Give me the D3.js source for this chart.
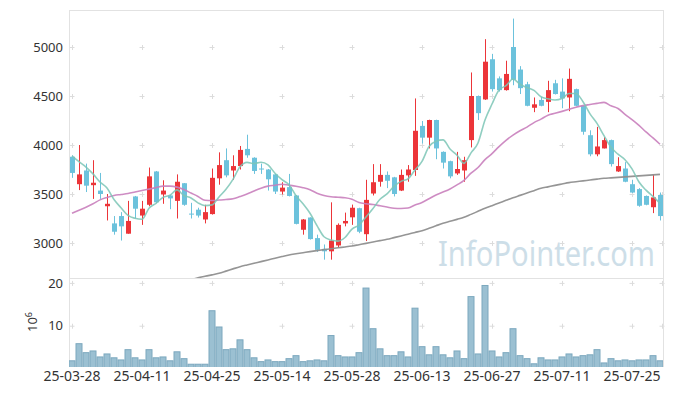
<!DOCTYPE html>
<html><head><meta charset="utf-8">
<script src="https://cdn.jsdelivr.net/npm/d3@7"></script>
<style>body{margin:0;background:#fff}svg{display:block}</style>
</head><body>
<svg id="c" width="673" height="396"></svg>
<script>
const dates = ["25-03-28","25-03-31","25-04-01","25-04-02","25-04-03","25-04-04","25-04-07","25-04-08","25-04-09","25-04-10",
"25-04-11","25-04-14","25-04-15","25-04-16","25-04-17","25-04-18","25-04-21","25-04-22","25-04-23","25-04-24",
"25-04-25","25-04-28","25-04-29","25-04-30","25-05-02","25-05-07","25-05-08","25-05-09","25-05-12","25-05-13",
"25-05-14","25-05-15","25-05-16","25-05-19","25-05-20","25-05-21","25-05-22","25-05-23","25-05-26","25-05-27",
"25-05-28","25-05-29","25-05-30","25-06-02","25-06-04","25-06-05","25-06-09","25-06-10","25-06-11","25-06-12",
"25-06-13","25-06-16","25-06-17","25-06-18","25-06-19","25-06-20","25-06-23","25-06-24","25-06-25","25-06-26",
"25-06-27","25-06-30","25-07-01","25-07-02","25-07-03","25-07-04","25-07-07","25-07-08","25-07-09","25-07-10",
"25-07-11","25-07-14","25-07-15","25-07-16","25-07-17","25-07-18","25-07-21","25-07-22","25-07-23","25-07-24",
"25-07-25","25-07-28","25-07-29","25-07-30","25-07-31"];

const opens = [3880,3600,3740,3590,3535,3375,3200,3275,3095,3475,3280,3390,3730,3495,3485,3430,3610,3300,3340,3240,
3295,3660,3845,3740,3785,3960,3870,3760,3750,3700,3525,3570,3485,3135,3260,3050,2940,2915,2975,3200,
3262,3355,3090,3505,3625,3695,3670,3535,3690,3745,4195,4075,4255,3930,3835,3710,3740,4050,4500,4465,
4875,4680,4560,5000,4770,4620,4380,4460,4440,4630,4545,4485,4570,4400,4100,3905,3965,4050,3730,3760,
3600,3550,3480,3365,3490];
const highs = [3895,4000,3810,3845,3715,3500,3275,3315,3430,3480,3430,3770,3735,3640,3490,3700,3612,3410,3360,3390,
3760,3925,3965,3895,3990,4105,3875,3810,3755,3705,3620,3705,3490,3245,3262,3085,2985,3415,3200,3310,
3392,3360,3645,3805,3805,3730,3675,3750,3795,4475,4245,4258,4258,3935,3840,3930,3880,4740,4505,5080,
4930,4700,4860,5290,4805,4645,4485,4490,4655,4665,4680,4780,4575,4400,4150,4185,4080,4055,3875,3825,
3645,3560,3485,3700,3515];
const lows = [3665,3540,3520,3450,3450,3230,3085,3025,3095,3250,3185,3375,3405,3400,3345,3250,3380,3250,3260,3200,
3290,3595,3670,3645,3750,3870,3705,3705,3535,3500,3495,3475,3190,3085,3035,2910,2830,2830,2950,3170,
3185,3100,3020,3485,3575,3560,3475,3530,3625,3685,4015,3965,3855,3760,3660,3695,3625,3975,4255,4460,
4545,4545,4555,4610,4520,4395,4335,4395,4335,4515,4375,4345,4395,4105,3885,3885,3965,3780,3725,3620,
3510,3370,3385,3305,3230];
const closes = [3715,3700,3585,3615,3500,3400,3115,3170,3225,3350,3350,3680,3415,3535,3455,3625,3390,3295,3280,3315,
3665,3795,3690,3785,3950,3895,3735,3755,3650,3525,3565,3480,3195,3240,3040,2930,2915,3025,3185,3225,
3360,3115,3440,3620,3695,3635,3500,3695,3750,4145,4075,4255,3965,3820,3680,3755,3845,4500,4325,4850,
4570,4560,4725,4665,4580,4400,4415,4400,4560,4520,4475,4675,4400,4135,3905,3985,4050,3805,3785,3625,
3515,3380,3390,3465,3275];
// volume in millions of shares
const volumes = [1.8,5.8,3.7,4.1,2.7,3.4,2.5,2.0,4.4,2.5,2.0,4.4,2.5,2.7,1.8,3.9,2.3,1.0,1.0,1.0,
13.5,9.7,4.4,4.6,6.7,4.4,2.5,1.6,2.0,1.6,1.6,2.3,3.0,1.6,1.8,2.0,1.8,7.7,3.0,2.7,
2.7,3.7,18.8,9.3,4.6,3.0,3.0,3.9,2.7,14.1,5.1,3.2,5.1,3.2,2.5,4.1,2.3,16.8,3.4,19.4,
4.1,2.7,3.7,9.3,3.0,2.3,1.1,2.5,2.0,2.0,2.7,3.4,2.7,3.0,3.2,4.4,1.3,2.3,1.8,2.0,
1.8,2.0,2.0,3.0,1.8];
// moving-average values before a full window is available
const ma5Head = [3890,3830,3775,3705];
const ma20Head = [3303,3335,3365,3400,3440,3465,3485,3495,3505,3520,3535,3550,3565,3580,3580,3570,3545,3510,3475];
// long moving average (below the panel before index 16)
const maLong = [null,null,null,null,null,null,null,null,null,null,null,null,null,null,null,null,
2605,2625,2645,2660,2675,2691,2713,2736,2758,2776,2793,2810,2827,2845,2862,2878,2890,2901,2912,2922,
2932,2941,2951,2960,2970,2983,2996,3010,3024,3038,3055,3072,3090,3108,3126,3150,3176,3201,3221,3241,
3262,3292,3323,3354,3381,3408,3435,3462,3486,3510,3534,3558,3573,3588,3602,3616,3625,3634,3643,3652,
3660,3665,3670,3675,3680,3685,3690,3695,3700];
const priceTicks = [3000,3500,4000,4500,5000];
const volTicks = [10,20];
const xTickIdx = [0,10,20,30,40,50,60,70,80];

const N = dates.length;
function rolling(n, head){
  return closes.map((c,i)=> i < n-1 ? head[i] : d3.mean(closes.slice(i-n+1,i+1)));
}
const ma5 = rolling(5, ma5Head);
const ma20 = rolling(20, ma20Head);

const svg = d3.select("#c");
const L = 69, R = 663, T = 10, MID = 278, B = 367;
const FONT = "'Noto Sans', sans-serif";

const x = d3.scaleBand().domain(d3.range(N)).range([68.5, 663.5]).padding(0);
const cx = i => x(i) + x.bandwidth()/2;
const y = d3.scaleLinear().domain([3000,5000]).range([243,47]);
const yv = d3.scaleLinear().domain([0.35,21.15]).range([B,MID]);

svg.append("defs").append("clipPath").attr("id","pc").append("rect")
  .attr("x",L).attr("y",T).attr("width",R-L).attr("height",MID-T);
svg.select("defs").append("clipPath").attr("id","vc").append("rect")
  .attr("x",L).attr("y",MID).attr("width",R-L).attr("height",B-MID);

// watermark
svg.append("text").attr("x",438).attr("y",266).attr("font-family",FONT).attr("font-size",34)
  .attr("fill","#cddee8").attr("textLength",217).attr("lengthAdjust","spacingAndGlyphs").text("InfoPointer.com");

// grid crosses
const gx = xTickIdx.map(cx).concat([R-1]);
const gyP = priceTicks.map(y), gyV = volTicks.map(yv);
const cross = svg.append("g").attr("stroke","#dcdcdc").attr("stroke-width",1);
gx.forEach(px=>{
  gyP.concat(gyV).forEach(py=>{
    cross.append("line").attr("x1",px-2.5).attr("x2",px+2.5).attr("y1",py+0.5).attr("y2",py+0.5);
    cross.append("line").attr("x1",Math.round(px)+0.5).attr("x2",Math.round(px)+0.5).attr("y1",py-2).attr("y2",py+3);
  });
});

// frame
const frame = svg.append("g").attr("stroke","#e2e2e2").attr("stroke-width",1).attr("fill","none");
frame.append("line").attr("x1",L+0.5).attr("x2",L+0.5).attr("y1",T).attr("y2",B);
frame.append("line").attr("x1",R+0.5).attr("x2",R+0.5).attr("y1",T).attr("y2",B);
frame.append("line").attr("x1",L).attr("x2",R+1).attr("y1",T+0.5).attr("y2",T+0.5);
frame.append("line").attr("x1",L).attr("x2",R+1).attr("y1",MID+0.5).attr("y2",MID+0.5);

// volume bars
svg.append("g").attr("clip-path","url(#vc)").selectAll("rect").data(volumes).join("rect")
  .attr("x",(d,i)=>x(i)+0.5).attr("width",x.bandwidth()-1)
  .attr("y",d=>yv(d)).attr("height",d=>B-yv(d)+2)
  .attr("fill","#9bc0d2").attr("stroke","#7ca8be").attr("stroke-width",1);

// candles
const UP = "#ec3539", DOWN = "#6cc2dc";
const cg = svg.append("g").attr("clip-path","url(#pc)");
d3.range(N).forEach(i=>{
  const o=opens[i], c=closes[i], col = c>=o ? UP : DOWN;
  const px = Math.round(cx(i));
  cg.append("line").attr("x1",px+0.5).attr("x2",px+0.5).attr("y1",y(highs[i])).attr("y2",y(lows[i]))
    .attr("stroke",col).attr("stroke-width",1);
  const top = y(Math.max(o,c)), bot = y(Math.min(o,c));
  cg.append("rect").attr("x",px-2).attr("width",5).attr("y",top).attr("height",Math.max(1,bot-top))
    .attr("fill",col);
});

// moving averages
const line = arr => d3.line().defined(d=>d!=null).x((d,i)=>cx(i)).y(d=>y(d)).curve(d3.curveMonotoneX)(arr);
const mg = svg.append("g").attr("clip-path","url(#pc)").attr("fill","none");
mg.append("path").attr("d",line(maLong)).attr("stroke","#8f8f8f").attr("stroke-width",1.6).attr("opacity",0.95);
mg.append("path").attr("d",line(ma20)).attr("stroke","#c97fbd").attr("stroke-width",1.6).attr("opacity",0.9);
mg.append("path").attr("d",line(ma5)).attr("stroke","#7cc6b6").attr("stroke-width",1.6).attr("opacity",0.85);

// axes
const yAxis = d3.axisLeft(y).tickValues(priceTicks).tickSize(0).tickPadding(6).tickFormat(d3.format("d"));
const ga = svg.append("g").attr("transform",`translate(${L},0)`).call(yAxis);
const vAxis = d3.axisLeft(yv).tickValues(volTicks).tickSize(0).tickPadding(6).tickFormat(d3.format("d"));
const gv = svg.append("g").attr("transform",`translate(${L},0)`).call(vAxis);
const xAxis = d3.axisBottom(x).tickValues(xTickIdx).tickSize(0).tickPadding(4).tickFormat(i=>dates[i]);
const gxA = svg.append("g").attr("transform",`translate(0,${B})`).call(xAxis);
[ga,gv].forEach(g=>{
  g.select(".domain").remove();
  g.selectAll("text").attr("font-family",FONT).attr("font-size",13).attr("fill","#333");
});
gxA.select(".domain").remove();
gxA.selectAll("text").attr("font-family",FONT).attr("font-size",14).attr("fill","#333");

// volume unit label
const ul = svg.append("text").attr("transform","translate(37,332) rotate(-90)")
  .attr("font-family",FONT).attr("font-size",13).attr("fill","#333");
ul.append("tspan").text("10");
ul.append("tspan").attr("dy",-5).attr("font-size",9).text("6");
</script>
</body></html>
